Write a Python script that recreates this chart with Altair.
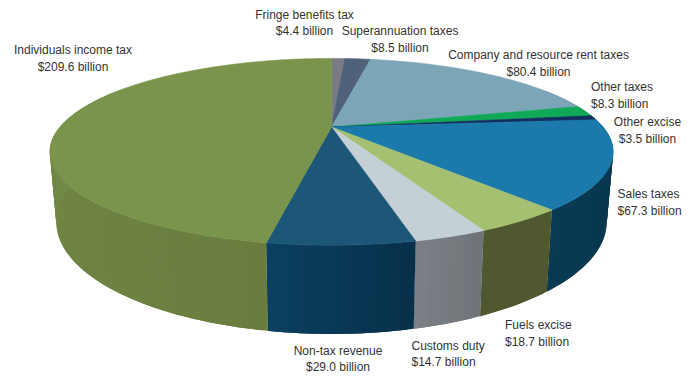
import math
import altair as alt

# Commonwealth revenue by head, billions of dollars, clockwise from twelve o'clock
names = ["Fringe benefits tax", "Superannuation taxes", "Company and resource rent taxes",
         "Other taxes", "Other excise", "Sales taxes", "Fuels excise", "Customs duty",
         "Non-tax revenue", "Individuals income tax"]
values = [4.4, 8.5, 80.4, 8.3, 3.5, 67.3, 18.7, 14.7, 29.0, 209.6]

top_colors = ["#7b7b85", "#4f6279", "#7ca5b8", "#0fa958", "#12305f",
              "#1b7aab", "#a4c070", "#c4d0d6", "#1c5778", "#7a954b"]
# Side wall shade at the start and at the end of each slice
wall_start = ["#55555c", "#374455", "#567382", "#0a763d", "#0c2143",
              "#05334a", "#50582f", "#6f7479", "#07304a", "#6a7d3f"]
wall_end = ["#55555c", "#374455", "#567382", "#0a763d", "#0c2143",
            "#0a3a54", "#50582f", "#7c8187", "#0b4161", "#7d974e"]

# Where each label's first line sits
label_x = [304.5, 400, 538.5, 591, 647.5, 617.5, 505, 411.5, 338, 73]
label_y = [14.5, 31, 55, 87, 122, 194, 325, 345.5, 350.5, 50]
label_align = ["center", "center", "center", "left", "center", "left", "left", "left", "center", "center"]

# Perspective disc: apex, half width, half depth, foreshortening
CX, CY, A, B, K = 331.5, 127.0, 271.5, 86.8, 0.266
# Lower rim of the disc relative to its upper rim
LOW_CY, LOW_SX, LOW_SY = 192.0, 0.977, 1.2
STEP = 1.0


def rim(t):
    X, Y = math.sin(t), math.cos(t)
    d = 1 + K * Y
    return CX + A * X / d, CY - B * Y / d


def low(p):
    return CX + LOW_SX * (p[0] - CX), LOW_CY + LOW_SY * (p[1] - CY)


def mix(c1, c2, f):
    a = [int(c1[i:i + 2], 16) for i in (1, 3, 5)]
    b = [int(c2[i:i + 2], 16) for i in (1, 3, 5)]
    return "#%02x%02x%02x" % tuple(round(u + (v - u) * f) for u, v in zip(a, b))


def polygon(points, fill):
    ring = [list(p) for p in points] + [list(points[0])]
    return {"type": "Feature",
            "geometry": {"type": "Polygon", "coordinates": [ring]},
            "properties": {"fill": fill}}


total = sum(values)
walls, tops = [], []
cum = 0.0
for v, tc, ws, we in zip(values, top_colors, wall_start, wall_end):
    t0 = cum / total * 2 * math.pi
    cum += v
    t1 = cum / total * 2 * math.pi
    n = max(2, int(math.degrees(t1 - t0) / STEP))
    ts = [t0 + (t1 - t0) * i / n for i in range(n + 1)]
    tops.append(polygon([(CX, CY)] + [rim(t) for t in ts], tc))
    for i in range(n):
        if math.cos(ts[i]) < 0.45 or math.cos(ts[i + 1]) < 0.45:
            # Each strip runs on under its neighbour so no seam shows through
            a, b = rim(ts[i]), rim(ts[i + 1])
            c = rim(ts[min(i + 2, n)])
            walls.append((ts[i], polygon([a, b, c, low(c), low(b), low(a)], mix(ws, we, i / n))))

# Later strips paint over the overlap of earlier ones around the front of the disc
walls.sort(key=lambda w: w[0])
wall_shapes = [w[1] for w in walls]


def disc_layer(shapes, **style):
    enc = {"fill": alt.Fill("properties.fill:N", scale=None)}
    if style:
        enc["stroke"] = alt.Stroke("properties.fill:N", scale=None)
    return (
        alt.Chart(alt.Data(values=shapes))
        .mark_geoshape(**style)
        .encode(**enc)
        .project(type="identity", scale=1, translate=[0, 0])
    )


rows = [{"text": f"{n}\n${v:.1f} billion", "x": x, "y": y, "align": al}
        for n, v, x, y, al in zip(names, values, label_x, label_y, label_align)]


def labels(align):
    return (
        alt.Chart(alt.Data(values=[r for r in rows if r["align"] == align]))
        .mark_text(font="Liberation Sans", fontSize=12, color="#333333", align=align,
                   baseline="middle", lineBreak="\n", lineHeight=16.5)
        .encode(x=alt.X("x:Q", scale=None), y=alt.Y("y:Q", scale=None), text="text:N")
    )


chart = (
    alt.layer(disc_layer(wall_shapes, strokeWidth=0),
              disc_layer(tops, strokeWidth=0.6),
              labels("center"), labels("left"))
    .properties(width=695, height=378, padding=0, background="white",
                autosize=alt.AutoSizeParams(type="none"))
    .configure_view(stroke=None)
)

chart.save("out.html", embed_options={"renderer": "svg", "actions": False})
